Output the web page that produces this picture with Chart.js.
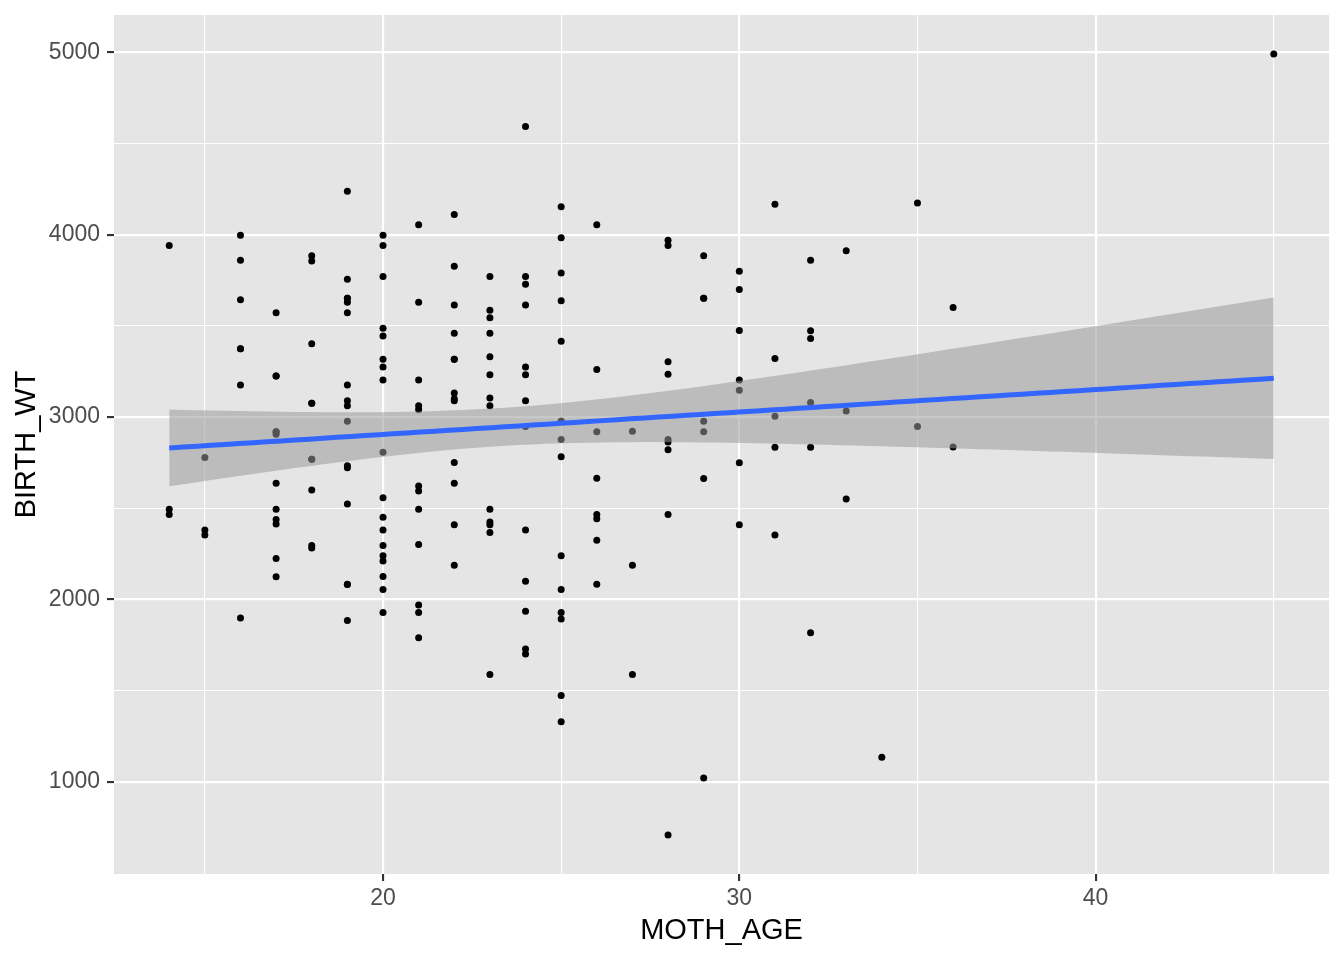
<!DOCTYPE html>
<html>
<head>
<meta charset="utf-8">
<script src="https://cdn.jsdelivr.net/npm/chart.js@4/dist/chart.umd.min.js"></script>
<style>
    html, body { margin: 0; padding: 0; background: #ffffff; }
    #chart { display: block; }
</style>
</head>
<body>
<canvas id="chart" width="1344" height="960"></canvas>
<script>
// Mother's age and birth weight, one entry per birth
const mothAge = [
    19, 33, 20, 21, 18, 21, 22, 17, 29, 26, 19, 19, 22, 30, 18, 18, 15, 25, 20, 28,
    32, 31, 36, 28, 25, 28, 17, 29, 26, 17, 17, 24, 35, 25, 25, 29, 19, 27, 31, 33,
    21, 19, 23, 21, 18, 18, 32, 19, 24, 22, 22, 23, 22, 30, 19, 16, 21, 30, 20, 17,
    17, 23, 24, 28, 26, 20, 24, 28, 20, 22, 22, 31, 23, 16, 16, 18, 25, 32, 20, 23,
    22, 32, 30, 20, 23, 17, 19, 23, 36, 22, 24, 21, 19, 25, 16, 29, 29, 19, 19, 30,
    24, 19, 24, 23, 20, 25, 30, 22, 18, 16, 32, 18, 29, 33, 20, 28, 14, 28, 25, 16,
    20, 26, 21, 22, 25, 31, 35, 19, 24, 45,
    28, 29, 34, 25, 25, 27, 23, 24, 24, 21, 32, 19, 25, 16, 25, 20, 21, 24, 21, 20,
    25, 19, 19, 26, 24, 17, 20, 22, 27, 20, 17, 25, 20, 18, 18, 20, 21, 26, 31, 15,
    23, 20, 24, 15, 23, 30, 22, 17, 23, 17, 26, 20, 26, 14, 28, 14, 23, 17, 21
];
const birthWt = [
    2523, 2551, 2557, 2594, 2600, 2622, 2637, 2637, 2663, 2665, 2722, 2733, 2751, 2750, 2769, 2769, 2778, 2782, 2807, 2821,
    2835, 2835, 2836, 2863, 2877, 2877, 2906, 2920, 2920, 2920, 2920, 2948, 2948, 2977, 2977, 2977, 2977, 2922, 3005, 3033,
    3042, 3062, 3062, 3062, 3076, 3076, 3080, 3090, 3090, 3090, 3100, 3104, 3132, 3147, 3175, 3175, 3203, 3203, 3203, 3225,
    3225, 3232, 3232, 3234, 3260, 3274, 3274, 3303, 3317, 3317, 3317, 3321, 3331, 3374, 3374, 3402, 3416, 3430, 3444, 3459,
    3460, 3473, 3475, 3487, 3544, 3572, 3572, 3586, 3600, 3614, 3614, 3629, 3629, 3637, 3643, 3651, 3651, 3651, 3651, 3699,
    3728, 3756, 3770, 3770, 3770, 3790, 3799, 3827, 3856, 3860, 3860, 3884, 3884, 3912, 3940, 3941, 3941, 3969, 3983, 3997,
    3997, 4054, 4054, 4111, 4153, 4167, 4174, 4238, 4593, 4990,
    709, 1021, 1135, 1330, 1474, 1588, 1588, 1701, 1729, 1790, 1818, 1885, 1893, 1899, 1928, 1928, 1928, 1936, 1970, 2055,
    2055, 2082, 2084, 2084, 2100, 2125, 2126, 2187, 2187, 2211, 2225, 2240, 2240, 2282, 2296, 2296, 2301, 2325, 2353, 2353,
    2367, 2381, 2381, 2381, 2410, 2410, 2410, 2414, 2424, 2438, 2442, 2450, 2466, 2466, 2466, 2495, 2495, 2495, 2495
];

const xTicks = [15, 20, 25, 30, 35, 40, 45];
const yTicks = [1000, 1500, 2000, 2500, 3000, 3500, 4000, 4500, 5000];
const xLabels = [20, 30, 40];
const yLabels = [1000, 2000, 3000, 4000, 5000];

// t quantile for a 95% interval with n - 2 = 187 degrees of freedom
const tQuantile = 1.9727;
const smoothPoints = 80;

// Linear model fit (like geom_smooth(method = "lm"))
const getLinearFit = (xs, ys) => {
    const n = xs.length;
    const meanX = xs.reduce((a, b) => a + b, 0) / n;
    const meanY = ys.reduce((a, b) => a + b, 0) / n;
    let sxx = 0, sxy = 0;
    for (let i = 0; i < n; i++) {
        sxx += (xs[i] - meanX) ** 2;
        sxy += (xs[i] - meanX) * (ys[i] - meanY);
    }
    const slope = sxy / sxx;
    const intercept = meanY - slope * meanX;
    let rss = 0;
    for (let i = 0; i < n; i++) rss += (ys[i] - intercept - slope * xs[i]) ** 2;
    const sigma = Math.sqrt(rss / (n - 2));

    const xMin = Math.min(...xs);
    const xMax = Math.max(...xs);
    const fit = [], upper = [], lower = [];
    for (let i = 0; i < smoothPoints; i++) {
        const x = xMin + (xMax - xMin) * i / (smoothPoints - 1);
        const y = intercept + slope * x;
        const se = sigma * Math.sqrt(1 / n + (x - meanX) ** 2 / sxx);
        fit.push({ x, y });
        upper.push({ x, y: y + tQuantile * se });
        lower.push({ x, y: y - tQuantile * se });
    }
    return { fit, upper, lower };
}

const getExpandedRange = values => {
    const min = Math.min(...values);
    const max = Math.max(...values);
    const pad = (max - min) * 0.05;
    return { min: min - pad, max: max + pad };
}

const smooth = getLinearFit(mothAge, birthWt);
const xRange = getExpandedRange(mothAge);
const yRange = getExpandedRange(birthWt);
const points = mothAge.map((age, i) => ({ x: age, y: birthWt[i] }));

const panelBackground = {
    id: "panelBackground",
    beforeDraw: chart => {
        const { ctx, chartArea } = chart;
        ctx.save();
        ctx.fillStyle = "#ffffff";
        ctx.fillRect(0, 0, chart.width, chart.height);
        ctx.fillStyle = "#E5E5E5";
        ctx.fillRect(chartArea.left, chartArea.top, chartArea.right - chartArea.left, chartArea.bottom - chartArea.top);
        ctx.restore();
    }
};

Chart.defaults.font.family = "'Liberation Sans', Arial, Helvetica, sans-serif";

const gridOptions = labels => ({
    color: "#FFFFFF",
    lineWidth: ctx => ctx.tick && labels.includes(ctx.tick.value) ? 2.13 : 1.07,
    drawTicks: true,
    tickLength: 7,
    tickWidth: 2.1,
    tickColor: ctx => ctx.tick && labels.includes(ctx.tick.value) ? "#333333" : "rgba(0,0,0,0)"
});

new Chart(document.getElementById("chart"), {
    type: "scatter",
    data: {
        datasets: [
            {
                label: "points",
                data: points,
                backgroundColor: "#000000",
                borderWidth: 0,
                pointRadius: 3.5,
                pointHoverRadius: 3.5,
                order: 3
            },
            {
                type: "line",
                label: "upper",
                data: smooth.upper,
                borderWidth: 0,
                borderColor: "rgba(0,0,0,0)",
                pointRadius: 0,
                fill: "+1",
                backgroundColor: "rgba(153,153,153,0.54)",
                order: 1
            },
            {
                type: "line",
                label: "lower",
                data: smooth.lower,
                borderWidth: 0,
                borderColor: "rgba(0,0,0,0)",
                pointRadius: 0,
                fill: false,
                order: 2
            },
            {
                type: "line",
                label: "fit",
                data: smooth.fit,
                borderColor: "#3366FF",
                borderWidth: 5,
                pointRadius: 0,
                fill: false,
                tension: 0,
                order: 0
            }
        ]
    },
    options: {
        responsive: false,
        animation: false,
        devicePixelRatio: 1,
        layout: { padding: { top: 15, right: 15, left: 0, bottom: 0 } },
        plugins: {
            legend: { display: false },
            tooltip: { enabled: false }
        },
        scales: {
            x: {
                type: "linear",
                min: xRange.min,
                max: xRange.max,
                afterBuildTicks: scale => { scale.ticks = xTicks.map(value => ({ value })); },
                afterFit: scale => {
                    scale.height = 86;
                    scale.paddingLeft = 0;
                    scale.paddingRight = 0;
                },
                border: { display: false },
                grid: gridOptions(xLabels),
                ticks: {
                    autoSkip: false,
                    maxRotation: 0,
                    padding: 4,
                    color: "#4D4D4D",
                    font: { size: 23 },
                    callback: value => xLabels.includes(value) ? String(value) : ""
                },
                title: {
                    display: true,
                    text: "MOTH_AGE",
                    color: "#000000",
                    font: { size: 29 },
                    padding: { top: 0, bottom: 11.5 }
                }
            },
            y: {
                type: "linear",
                min: yRange.min,
                max: yRange.max,
                afterBuildTicks: scale => { scale.ticks = yTicks.map(value => ({ value })); },
                afterFit: scale => {
                    scale.width = 114;
                    scale.paddingTop = 0;
                    scale.paddingBottom = 0;
                },
                border: { display: false },
                grid: gridOptions(yLabels),
                ticks: {
                    autoSkip: false,
                    padding: 7,
                    color: "#4D4D4D",
                    font: { size: 23 },
                    callback: value => yLabels.includes(value) ? String(value) : ""
                },
                title: {
                    display: true,
                    text: "BIRTH_WT",
                    color: "#000000",
                    font: { size: 29 },
                    padding: { top: 9.3, bottom: 0 }
                }
            }
        }
    },
    plugins: [panelBackground]
});
</script>
</body>
</html>
